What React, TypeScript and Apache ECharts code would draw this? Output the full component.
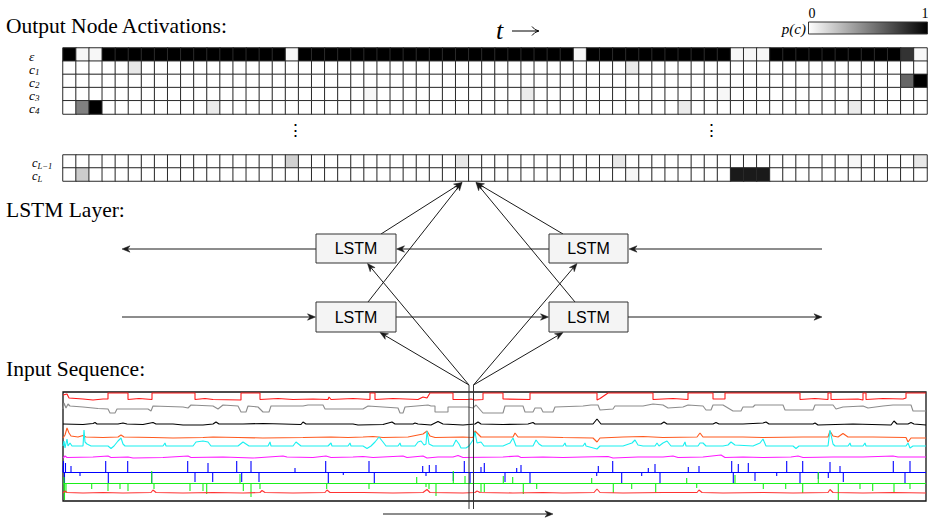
import React, { useEffect, useRef } from 'react';
import * as echarts from 'echarts';

// ---------------- Data ----------------
const N_COLS = 66;
const colCats = Array.from({ length: N_COLS }, (_, i) => String(i));

const topRowLabels = ['ε', 'c_1', 'c_2', 'c_3', 'c_4'];
const bottomRowLabels = ['c_L−1', 'c_L'];

// p(c) per time step (0 = white, 1 = black)
const epsRow = [
  1, 0.03, 0.03, 1, 1, 1, 1, 1, 1, 1, 1, 1, 1, 1, 1, 1, 1, 0.03,
  1, 1, 1, 1, 1, 1, 1, 1, 1, 1, 1, 1, 1, 1, 1, 1, 1, 1, 1, 1, 1, 0.03,
  1, 1, 1, 1, 1, 1, 1, 1, 1, 1, 1, 0.03, 0.03, 0.03,
  1, 1, 1, 1, 1, 1, 1, 1, 1, 1, 0.8, 0.03,
];
const c1Cells = [[5, 0.09], [43, 0.08]];
const c2Cells = [[64, 0.6], [65, 1]];
const c3Cells = [[23, 0.03], [35, 0.08], [50, 0.03]];
const c4Cells = [[1, 0.5], [2, 1], [11, 0.08], [47, 0.08], [60, 0.08]];
const cLm1Cells = [[17, 0.18], [30, 0.09], [42, 0.09], [60, 0.03], [65, 0.09]];
const cLCells = [[1, 0.2], [43, 0.03], [51, 0.9], [52, 0.9], [53, 0.9]];

// Input sequence: [time, level]
const redTop = [
  [0, 106], [4, 107], [6, 103], [20, 102], [30, 101], [40, 102], [45, 102], [45, 108], [65, 108], [65, 101.5],
  [76, 102.5], [89, 101.5], [89, 108], [132, 108], [132, 101.5], [142, 102.5], [150, 101.5], [178, 101], [178, 108],
  [197, 108], [197, 101.5], [215, 102.5], [230, 101.5], [250, 102], [265, 101.5], [266, 104], [268, 101.5],
  [290, 102.5], [307, 101.5], [307, 108], [312, 108], [312, 101.5], [330, 102.5], [355, 101.5], [360, 104],
  [364, 103], [367, 108], [390, 108], [390, 101.5], [405, 101.5], [408, 102], [412, 101], [420, 101.5], [420, 108],
  [440, 108], [440, 102], [467, 101.5], [467, 108], [534, 108], [534, 101], [537, 102.5], [545, 108], [590, 108],
  [590, 101.5], [610, 102.5], [625, 101.5], [625, 108], [650, 108], [650, 102], [662, 102], [662, 108], [737, 108],
  [737, 101.5], [752, 102.5], [765, 101.5], [765, 108], [768, 108], [768, 101.5], [795, 102], [800, 101], [800, 108],
  [803, 108], [803, 101.5], [820, 102.5], [840, 102], [843, 103], [843, 108], [863, 108],
];
const gray = [
  [0, 92], [1, 98], [3, 93], [5, 97], [7, 95], [20, 94], [35, 92.5], [45, 92], [47, 88], [52, 88], [54, 92], [85, 92],
  [88, 90], [90, 95], [120, 94], [125, 93], [128, 96], [150, 95], [155, 92], [160, 96], [175, 95], [178, 89], [183, 89],
  [185, 95], [195, 94], [200, 89], [206, 89], [208, 95], [240, 95], [245, 96], [260, 96], [262, 92], [300, 92],
  [305, 95], [335, 93], [337, 88], [340, 88], [342, 94], [365, 96], [368, 95], [372, 95], [372, 89], [385, 89],
  [385, 94], [405, 94], [410, 93], [413, 96], [420, 88], [440, 88], [442, 95], [460, 95], [462, 89], [470, 89],
  [472, 93], [478, 93], [480, 89], [490, 89], [492, 94], [520, 95], [528, 96], [535, 96], [537, 91], [550, 92],
  [552, 95], [580, 95], [590, 97], [600, 96], [605, 93], [620, 94], [625, 96], [640, 95], [643, 91], [648, 91],
  [650, 96], [660, 96], [670, 90], [678, 90], [680, 94], [690, 94], [692, 96], [720, 96], [722, 91], [750, 91],
  [752, 96], [770, 96], [773, 92], [780, 94], [800, 95], [805, 93], [820, 95], [830, 96], [848, 96], [850, 90], [863, 90],
];
const black = [
  [0, 77], [20, 76.5], [30, 77.5], [32, 78.5], [34, 77], [55, 77], [60, 78], [64, 77], [80, 76.5], [90, 78.5], [93, 77],
  [110, 77], [120, 76], [140, 76], [150, 77], [153, 79], [156, 77], [180, 77], [200, 77.5], [220, 77], [238, 76.5],
  [240, 79], [243, 77], [270, 77], [290, 77], [295, 76], [320, 76.5], [329, 79], [332, 77], [350, 77], [352, 78],
  [355, 77], [368, 76], [375, 79.5], [380, 77], [400, 76], [412, 77], [415, 79], [418, 77], [440, 76.5], [465, 77],
  [470, 78.5], [472, 77], [500, 77], [530, 77], [534, 82], [538, 77], [560, 77], [585, 77], [598, 77], [601, 79],
  [604, 77], [630, 77], [650, 77], [653, 78.5], [656, 77], [680, 77], [700, 78], [703, 79], [706, 77], [740, 77],
  [750, 77], [752, 78], [755, 76], [790, 77], [828, 76], [831, 80], [834, 77], [845, 77], [848, 78.5], [851, 77], [863, 76],
];
const orange = [
  [0, 63], [2, 66], [4, 73], [6, 68], [8, 65], [15, 64], [20, 65.5], [23, 64], [40, 63.5], [55, 64], [58, 66], [61, 64],
  [90, 63.5], [110, 63], [140, 63.5], [150, 64], [175, 63.5], [200, 63], [240, 63.5], [268, 64], [285, 63.5], [300, 64],
  [310, 64.5], [320, 63.5], [345, 64], [360, 67], [364, 70], [367, 65], [372, 63.5], [400, 64], [410, 63.5], [412, 70],
  [415, 67], [418, 64], [440, 64], [450, 64], [452, 68], [455, 64], [480, 64], [500, 63.5], [530, 63], [534, 59],
  [537, 63], [560, 64], [580, 64.5], [600, 63.5], [634, 64], [637, 68], [640, 64], [660, 64], [680, 64], [700, 63.5],
  [740, 64], [765, 64], [767, 70], [770, 65], [775, 64], [780, 67.5], [785, 64], [810, 64], [843, 63.5], [845, 59],
  [848, 63], [863, 63],
];
const cyan = [
  [0, 55], [1, 60], [2, 53], [4, 62], [5, 55], [7, 58], [9, 55], [20, 55], [21, 71], [22, 59], [24, 57], [28, 55],
  [45, 55], [48, 52.5], [51, 55], [55, 60], [58, 63], [60, 57], [62, 55], [100, 55], [102, 58], [103, 55], [130, 55],
  [133, 59], [140, 60], [145, 59], [148, 55], [175, 55], [180, 59], [186, 55], [205, 55], [207, 59], [208, 55],
  [230, 55], [233, 59], [238, 55], [265, 55], [268, 58], [269, 55], [285, 55], [287, 58], [288, 55], [300, 55],
  [304, 52.5], [308, 55], [312, 59], [316, 64], [320, 59], [323, 55], [335, 55], [337, 58], [338, 55], [352, 55],
  [355, 59], [358, 60], [361, 56], [363, 57], [364, 70], [366, 57], [370, 55], [390, 55], [393, 61], [396, 57],
  [398, 53], [403, 53], [406, 55], [410, 61], [412, 69], [414, 58], [418, 59], [421, 55], [440, 55], [447, 58],
  [450, 63], [453, 55], [470, 55], [473, 61], [476, 57], [479, 55], [500, 55], [502, 58], [503, 55], [520, 55],
  [522, 58], [523, 55], [534, 52], [537, 55], [560, 55], [569, 58], [572, 61], [575, 56], [580, 55], [592, 55],
  [594, 58], [596, 55], [600, 58], [604, 60], [608, 55], [620, 55], [622, 59], [623, 55], [635, 55], [637, 58],
  [640, 58], [643, 55], [660, 55], [665, 56], [668, 59], [672, 56], [690, 55], [697, 58], [700, 62], [703, 55],
  [730, 55], [733, 52.5], [736, 55], [765, 55], [767, 71], [770, 57], [772, 55], [785, 55], [787, 58], [788, 55],
  [800, 55], [802, 58], [803, 55], [820, 55], [843, 55], [845, 58], [847, 53], [850, 55], [863, 55],
];
const magenta = [
  [0, 43], [2, 45], [4, 43.5], [30, 44], [45, 45], [48, 43.5], [65, 44], [70, 43], [100, 43.5], [125, 45], [128, 43.5],
  [160, 44], [190, 43], [220, 45], [224, 44], [250, 43.5], [263, 45], [268, 43.5], [290, 44], [300, 44.5], [310, 43.5],
  [340, 45], [344, 43.5], [360, 45], [364, 43], [375, 44], [390, 44], [395, 45.5], [400, 43.5], [440, 44], [455, 45],
  [458, 43.5], [480, 44], [500, 43.5], [520, 44], [545, 44.5], [550, 43], [575, 44], [600, 44], [610, 45], [615, 43.5],
  [640, 44], [658, 46], [662, 43.5], [680, 44], [700, 43.5], [728, 44], [735, 45], [740, 43.5], [770, 44], [800, 44],
  [830, 45], [835, 44], [863, 44],
];
const blueBase = 28.5;
const blueSpikes = [
  [0.5, 40], [1.5, 17], [2.5, 38], [8, 35], [17, 25], [42.7, 40], [45.3, 18], [64.7, 40], [88.7, 17], [124.7, 40],
  [132, 19], [145, 38], [149.7, 19], [173.7, 40], [178.7, 19], [188, 40], [196, 19], [232, 33], [262.7, 40],
  [265.3, 17], [280.3, 26], [306, 40], [311.3, 17], [359.7, 35], [363, 25], [366.3, 36], [373, 36], [390.3, 20],
  [401.3, 40], [407, 17], [418, 34], [421.3, 38], [442, 19], [453.7, 33], [458, 36], [467, 17], [533.7, 25],
  [535.3, 35], [549.7, 40], [558.7, 17], [578.7, 25], [585.3, 33], [592, 37], [597, 17], [625.3, 34], [636, 35],
  [668.7, 40], [670.3, 17], [675.3, 37], [685.3, 38], [692, 20], [713.7, 25], [723.7, 40], [737, 17], [739.7, 40],
  [755.3, 22], [765.3, 23], [767, 39], [777, 35], [780.3, 19], [830.3, 40], [842, 17], [847, 40],
];
const greenBase = 17.5;
const greenSpikes = [
  [1, 24], [1.5, 1], [3, 8], [28.7, 12], [45, 10], [57, 12], [65, 10], [88.7, 30], [91, 12], [127, 10], [140, 10],
  [143.7, 7], [177, 27], [180.3, 10], [188, 4], [197, 12], [263.7, 12], [306, 12], [353.7, 24], [363, 14], [366, 12],
  [373, 5], [390.3, 30], [402, 25], [418, 9], [421.3, 9], [440.3, 25], [449.7, 24], [460.3, 7], [473.7, 12],
  [528.7, 23], [550.3, 8], [568.7, 12], [592.7, 8], [623.7, 23], [633.7, 13], [672, 26], [700.3, 12], [722.7, 12],
  [739.7, 8], [755.3, 29], [775.3, 1], [797, 12], [809.7, 10], [831, 8], [847, 12],
];
const redBottom = [
  [0, 8], [2, 10], [4, 8.5], [20, 8], [40, 8.5], [60, 8], [88, 8.5], [90, 11], [93, 8.5], [120, 8], [150, 8.5],
  [180, 8], [197, 8.5], [199, 10.5], [202, 8.5], [230, 8], [262, 8.5], [264, 11], [267, 8.5], [300, 8.5], [330, 8],
  [360, 8.5], [364, 11.5], [367, 8.5], [400, 8], [412, 8.5], [414, 10], [417, 8.5], [450, 8], [480, 8.5], [500, 8],
  [531, 8.5], [534, 12], [537, 8.5], [560, 8], [600, 8.5], [634, 8.5], [636, 11], [639, 8.5], [660, 8], [700, 8.5],
  [730, 8], [765, 8.5], [767, 11.5], [770, 8.5], [800, 8], [830, 8.5], [863, 8],
];
const T_MAX = 863;

// ---------------- Helpers ----------------
function fullRow(cells: number[][]) {
  const r = new Array(N_COLS).fill(0);
  cells.forEach(([c, v]) => { r[c] = v; });
  return r;
}
function heatData(rows: number[][]) {
  const d: number[][] = [];
  rows.forEach((row, r) => row.forEach((v, c) => d.push([c, r, v])));
  return d;
}
function spikeLine(base: number, spikes: number[][]) {
  const ev = [...spikes].sort((a, b) => a[0] - b[0]);
  const d: number[][] = [[0, base]];
  ev.forEach(([t, v]) => { d.push([t, base], [t, v], [t, base]); });
  d.push([T_MAX, base]);
  return d;
}
function rowLabel(v: string) {
  const [b, s] = v.split('_');
  return s ? `{m|${b}}{s|${s}}` : `{m|${b}}`;
}

const SERIF = 'Liberation Serif, DejaVu Serif, serif';
const SANS = 'Liberation Sans, Arial, sans-serif';
const LC = '#1a1a1a';

function arrow(x1: number, y1: number, x2: number, y2: number, color = LC) {
  const dx = x2 - x1, dy = y2 - y1;
  const L = Math.hypot(dx, dy);
  const ux = dx / L, uy = dy / L, px = -uy, py = ux;
  const len = 8, half = 3.2, notch = 2.4;
  const bx = x2 - ux * len, by = y2 - uy * len;
  const nx = x2 - ux * (len - notch), ny = y2 - uy * (len - notch);
  return [
    { type: 'line', z: 50, shape: { x1, y1, x2: nx, y2: ny }, style: { stroke: color, lineWidth: 1 } },
    {
      type: 'polygon', z: 51,
      shape: { points: [[x2, y2], [bx + px * half, by + py * half], [nx, ny], [bx - px * half, by - py * half]] },
      style: { fill: color, stroke: color, lineWidth: 0.5 },
    },
  ];
}
function plainLine(x1: number, y1: number, x2: number, y2: number, color = LC) {
  return { type: 'line', z: 50, shape: { x1, y1, x2, y2 }, style: { stroke: color, lineWidth: 1 } };
}
function box(x: number, y: number, w: number, h: number) {
  return [
    { type: 'rect', z: 52, shape: { x, y, width: w, height: h }, style: { fill: '#f4f4f4', stroke: '#333', lineWidth: 1 } },
    {
      type: 'text', z: 53, x: x + w / 2, y: y + h / 2,
      style: { text: 'LSTM', font: `16px ${SANS}`, fill: '#000', align: 'center', verticalAlign: 'middle' },
    },
  ];
}
function makeRich(mSize: number, sSize: number) {
  return {
    m: { fontFamily: SERIF, fontStyle: 'italic', fontSize: mSize, color: '#000', lineHeight: 11, verticalAlign: 'top' },
    s: { fontFamily: SERIF, fontStyle: 'italic', fontSize: sSize, color: '#000', lineHeight: 7, verticalAlign: 'top', padding: [5, 0, 0, 0] },
  };
}

export default function App() {
  const ref = useRef<HTMLDivElement>(null);
  useEffect(() => {
    if (!ref.current) return;
    const chart = echarts.init(ref.current, undefined, { renderer: 'svg' });

    const topRows = [epsRow, fullRow(c1Cells), fullRow(c2Cells), fullRow(c3Cells), fullRow(c4Cells)];
    const botRows = [fullRow(cLm1Cells), fullRow(cLCells)];

    const catY = (data: string[], idx: number, margin: number, rich: any) => ({
      type: 'category', gridIndex: idx, data, inverse: true,
      axisLine: { show: false }, axisTick: { show: false }, splitLine: { show: false },
      axisLabel: { align: 'left', margin, interval: 0, formatter: rowLabel, rich },
    });
    const catX = (idx: number) => ({
      type: 'category', gridIndex: idx, data: colCats, show: false,
    });

    const lineDefs: [number[][], string][] = [
      [redTop, '#ff1a1a'],
      [gray, '#8c8c8c'],
      [black, '#000000'],
      [orange, '#ff5a1f'],
      [cyan, '#19f0f0'],
      [magenta, '#ff19ff'],
      [spikeLine(blueBase, blueSpikes), '#0000ff'],
      [spikeLine(greenBase, greenSpikes), '#19ee19'],
      [redBottom, '#ff3333'],
    ];

    const graphics: any[] = [
      { type: 'text', left: 6, top: 15, style: { text: 'Output Node Activations:', font: `21.5px ${SERIF}`, fill: '#000' } },
      { type: 'text', left: 6, top: 199, style: { text: 'LSTM Layer:', font: `21.5px ${SERIF}`, fill: '#000' } },
      { type: 'text', left: 6, top: 358, style: { text: 'Input Sequence:', font: `21.5px ${SERIF}`, fill: '#000' } },
      { type: 'text', x: 496, y: 30, style: { text: 't', font: `italic 26px ${SERIF}`, fill: '#000', verticalAlign: 'middle' } },
      plainLine(512, 31, 538, 31, '#000'),
      { type: 'polyline', z: 50, shape: { points: [[532, 26.5], [535, 29.5], [539, 31], [535, 32.5], [532, 35.5]] }, style: { stroke: '#000', lineWidth: 1, fill: 'none' } },
      { type: 'text', x: 806, y: 29, style: { text: 'p(c)', font: `italic 15px ${SERIF}`, fill: '#000', align: 'right', verticalAlign: 'middle' } },
      { type: 'text', x: 812, y: 13, style: { text: '0', font: `14px ${SERIF}`, fill: '#000', align: 'center', verticalAlign: 'middle' } },
      { type: 'text', x: 925, y: 13, style: { text: '1', font: `14px ${SERIF}`, fill: '#000', align: 'center', verticalAlign: 'middle' } },
      {
        type: 'rect', shape: { x: 808.5, y: 22, width: 119, height: 12 },
        style: {
          fill: new echarts.graphic.LinearGradient(0, 0, 1, 0, [
            { offset: 0, color: '#ffffff' }, { offset: 1, color: '#000000' },
          ]),
          stroke: '#333', lineWidth: 1,
        },
      },
      { type: 'text', x: 295, y: 130, style: { text: '⋮', font: `17px ${SERIF}`, fill: '#000', align: 'center', verticalAlign: 'middle' } },
      { type: 'text', x: 711, y: 130, style: { text: '⋮', font: `17px ${SERIF}`, fill: '#000', align: 'center', verticalAlign: 'middle' } },
      // recurrent connections
      ...arrow(822, 249, 629, 249),
      ...arrow(549, 249, 396.5, 249),
      ...arrow(316, 249, 122, 249),
      ...arrow(122, 317, 315.5, 317),
      ...arrow(396, 317, 548.5, 317),
      ...arrow(628, 317, 822, 317),
      // outputs
      ...arrow(381, 234, 462, 182.5),
      ...arrow(368, 302, 462, 182.5),
      ...arrow(563, 234, 476, 182.5),
      ...arrow(575, 302, 476, 182.5),
      // inputs
      ...arrow(469, 385, 380, 332.5),
      ...arrow(469, 385, 367.5, 263.5),
      ...arrow(473.5, 385, 563, 332.5),
      ...arrow(473.5, 385, 577, 263.5),
      plainLine(469, 385, 469, 509, '#333'),
      plainLine(473.5, 385, 473.5, 509, '#333'),
      ...arrow(383, 514, 553, 514),
      ...box(316, 234, 80, 29),
      ...box(549, 234, 79, 29),
      ...box(316, 302, 80, 30),
      ...box(549, 302, 79, 30),
    ];

    chart.setOption({
      animation: false,
      backgroundColor: '#ffffff',
      grid: [
        { left: 63, top: 48, width: 864, height: 66 },
        { left: 63, top: 155, width: 864, height: 26 },
        { left: 63, top: 392, width: 863, height: 109, show: true, borderColor: '#111', borderWidth: 1.3, backgroundColor: 'transparent' },
      ],
      xAxis: [
        catX(0),
        catX(1),
        { type: 'value', gridIndex: 2, min: 0, max: T_MAX, show: false },
      ],
      yAxis: [
        catY(topRowLabels, 0, 34, makeRich(13.5, 9)),
        catY(bottomRowLabels, 1, 31, makeRich(12.5, 8.5)),
        { type: 'value', gridIndex: 2, min: 0, max: 109, show: false },
      ],
      visualMap: {
        type: 'continuous', show: false, min: 0, max: 1, seriesIndex: [0, 1],
        inRange: { color: ['#ffffff', '#000000'] },
      },
      series: [
        {
          type: 'heatmap', xAxisIndex: 0, yAxisIndex: 0, data: heatData(topRows),
          itemStyle: { borderColor: '#2a2a2a', borderWidth: 1 }, emphasis: { disabled: true },
        },
        {
          type: 'heatmap', xAxisIndex: 1, yAxisIndex: 1, data: heatData(botRows),
          itemStyle: { borderColor: '#2a2a2a', borderWidth: 1 }, emphasis: { disabled: true },
        },
        ...lineDefs.map(([data, color]) => ({
          type: 'line', xAxisIndex: 2, yAxisIndex: 2, data, showSymbol: false, symbol: 'none',
          lineStyle: { color, width: 1.1 }, itemStyle: { color }, clip: true, silent: true,
        })),
      ],
      graphic: graphics,
    });
    return () => chart.dispose();
  }, []);
  return <div ref={ref} style={{ position: 'fixed', left: 0, top: 0, width: 930, height: 520, background: '#fff' }} />;
}
